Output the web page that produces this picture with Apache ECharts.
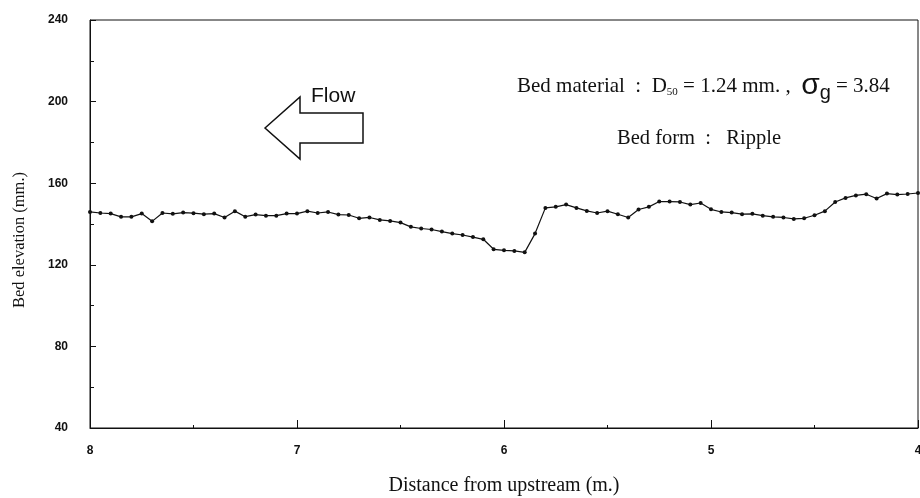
<!DOCTYPE html>
<html>
<head>
<meta charset="utf-8">
<title>Bed elevation</title>
<script src="https://cdn.jsdelivr.net/npm/echarts@6/dist/echarts.min.js"></script>
<style>
  html, body { margin: 0; padding: 0; background: #fff; }
  #chart { width: 920px; height: 498px; }
</style>
</head>
<body>
<div id="chart"></div>
<script>
  // distance from upstream (m.)
  const distance = [
    8.00, 7.95, 7.90, 7.85, 7.80, 7.75, 7.70, 7.65, 7.60, 7.55,
    7.50, 7.45, 7.40, 7.35, 7.30, 7.25, 7.20, 7.15, 7.10, 7.05,
    7.00, 6.95, 6.90, 6.85, 6.80, 6.75, 6.70, 6.65, 6.60, 6.55,
    6.50, 6.45, 6.40, 6.35, 6.30, 6.25, 6.20, 6.15, 6.10, 6.05,
    6.00, 5.95, 5.90, 5.85, 5.80, 5.75, 5.70, 5.65, 5.60, 5.55,
    5.50, 5.45, 5.40, 5.35, 5.30, 5.25, 5.20, 5.15, 5.10, 5.05,
    5.00, 4.95, 4.90, 4.85, 4.80, 4.75, 4.70, 4.65, 4.60, 4.55,
    4.50, 4.45, 4.40, 4.35, 4.30, 4.25, 4.20, 4.15, 4.10, 4.05,
    4.00
  ];

  // bed elevation (mm.)
  const elevation = [
    145.9, 145.4, 145.1, 143.5, 143.5, 145.1, 141.3, 145.4, 145.0, 145.6,
    145.3, 144.8, 145.1, 143.2, 146.3, 143.6, 144.6, 144.1, 144.1, 145.1,
    145.1, 146.3, 145.4, 145.9, 144.6, 144.4, 142.8, 143.2, 142.0, 141.5,
    140.7, 138.6, 137.8, 137.3, 136.3, 135.3, 134.6, 133.6, 132.5, 127.6,
    127.1, 126.8, 126.1, 135.3, 147.9, 148.4, 149.5, 147.9, 146.4, 145.4,
    146.3, 144.8, 143.2, 147.1, 148.4, 151.0, 151.0, 150.8, 149.5, 150.3,
    147.2, 145.9, 145.6, 144.8, 145.0, 144.1, 143.5, 143.2, 142.5, 142.8,
    144.3, 146.3, 150.8, 152.8, 154.0, 154.6, 152.5, 154.9, 154.4, 154.7,
    155.2
  ];

  const xTicks = [4, 5, 6, 7, 8];
  const yTicks = [40, 80, 120, 160, 200, 240];

  const serif = '"Liberation Serif", "Times New Roman", serif';
  const sans = '"Liberation Sans", Arial, sans-serif';
  const narrow = '"Liberation Sans Narrow", "Liberation Sans", Arial, sans-serif';

  const chart = echarts.init(document.getElementById('chart'));

  chart.setOption({
    animation: false,
    backgroundColor: '#fff',
    grid: {
      left: 90,
      right: 2,
      top: 20,
      bottom: 70,
      outerBoundsMode: 'none',
      containLabel: false,
      show: true,
      borderColor: '#111',
      borderWidth: 1
    },
    xAxis: {
      type: 'value',
      inverse: true,
      min: xTicks[0],
      max: xTicks[xTicks.length - 1],
      interval: 1,
      name: 'Distance from upstream (m.)',
      nameLocation: 'middle',
      nameGap: 48,
      nameTextStyle: { fontFamily: serif, fontSize: 20, color: '#111' },
      axisLine: { lineStyle: { color: '#111', width: 1 } },
      axisTick: { inside: true, length: 8, lineStyle: { color: '#111' } },
      minorTick: { show: true, splitNumber: 2, length: 3, lineStyle: { color: '#111' } },
      axisLabel: { margin: 17, fontFamily: narrow, fontWeight: 'bold', fontSize: 12, color: '#111' },
      splitLine: { show: false }
    },
    yAxis: {
      type: 'value',
      min: yTicks[0],
      max: yTicks[yTicks.length - 1],
      interval: 40,
      axisLine: { show: true, lineStyle: { color: '#111', width: 1 } },
      axisTick: { show: true, inside: true, length: 6, lineStyle: { color: '#111' } },
      minorTick: { show: true, splitNumber: 2, length: 4, lineStyle: { color: '#111' } },
      axisLabel: { margin: 22, fontFamily: narrow, fontWeight: 'bold', fontSize: 12, color: '#111' },
      splitLine: { show: false }
    },
    series: [{
      type: 'line',
      data: distance.map((d, i) => [d, elevation[i]]),
      symbol: 'circle',
      symbolSize: 4,
      showSymbol: true,
      itemStyle: { color: '#111' },
      lineStyle: { color: '#111', width: 1.2 }
    }],
    graphic: [
      {
        // y axis title, sits a little below the middle as in the scan
        type: 'text',
        x: 20,
        y: 240,
        rotation: Math.PI / 2,
        style: {
          text: 'Bed elevation (mm.)',
          font: '16.5px ' + serif,
          fill: '#111',
          align: 'center',
          verticalAlign: 'middle'
        }
      },
      {
        type: 'polygon',
        shape: {
          points: [[265, 128], [300, 97], [300, 113], [363, 113], [363, 143], [300, 143], [300, 159]]
        },
        style: { fill: '#fff', stroke: '#111', lineWidth: 1.5 }
      },
      {
        type: 'text',
        left: 311,
        top: 86,
        style: {
          text: 'Flow',
          font: '21px ' + sans,
          fill: '#111'
        }
      },
      {
        type: 'text',
        left: 517,
        top: 71,
        style: {
          text: '{t|Bed material  :  D}{sub|50}{t| = 1.24 mm. ,  }{sig|σ}{subg|g}{t| = 3.84}',
          rich: {
            t: { fontFamily: serif, fontSize: 21, fill: '#111', verticalAlign: 'bottom', height: 28 },
            sub: { fontFamily: serif, fontSize: 11, fill: '#111', verticalAlign: 'bottom', padding: [0, 0, -6, 0], height: 28 },
            sig: { fontFamily: sans, fontSize: 30, fill: '#111', verticalAlign: 'bottom', height: 28 },
            subg: { fontFamily: sans, fontSize: 20, fill: '#111', verticalAlign: 'bottom', padding: [0, 0, -7, 0], height: 28 }
          }
        }
      },
      {
        type: 'text',
        left: 617,
        top: 128,
        style: {
          text: 'Bed form  :   Ripple',
          font: '20.5px ' + serif,
          fill: '#111'
        }
      }
    ]
  });
</script>
</body>
</html>
